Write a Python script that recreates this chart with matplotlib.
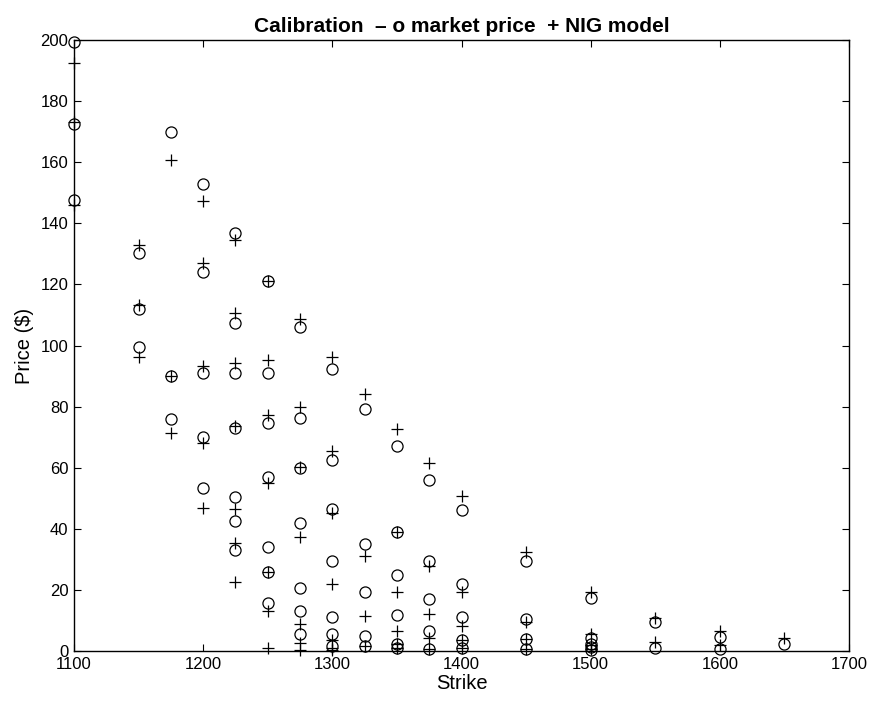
import matplotlib
matplotlib.use("Agg")
import matplotlib.pyplot as plt
import numpy as np

plt.rcParams['font.family'] = ['Liberation Sans', 'DejaVu Sans']

# Market prices (circles)
mkt_strike = [1100]*3 + [1150]*3 + [1175]*3 + [1200]*5 + [1225]*7 + [1250]*7 + [1275]*7 + \
             [1300]*7 + [1325]*5 + [1350]*6 + [1375]*5 + [1400]*5 + [1450]*4 + [1500]*5 + \
             [1550]*2 + [1600]*2 + [1650]*1
mkt_price = [199.3, 172.4, 147.6,
             130.2, 111.8, 99.4,
             169.8, 90.1, 75.8,
             152.8, 124.2, 90.9, 69.9, 53.5,
             136.7, 107.3, 90.9, 73.1, 50.5, 42.6, 33.1,
             121.1, 91.1, 74.7, 57.1, 34.1, 26.0, 15.8,
             106.0, 76.2, 59.8, 42.0, 20.7, 13.2, 5.5,
             92.2, 62.5, 46.5, 29.3, 11.0, 5.5, 1.5,
             79.2, 34.9, 19.2, 4.8, 1.8,
             67.2, 38.8, 24.9, 11.7, 2.2, 0.9,
             56.0, 29.3, 17.0, 6.5, 0.7,
             46.2, 21.8, 11.1, 3.6, 0.9,
             29.4, 10.4, 3.8, 0.8,
             17.5, 4.4, 2.2, 1.2, 0.4,
             9.5, 0.9,
             4.7, 0.7,
             2.2]

# NIG model prices (pluses)
nig_strike = [1100]*3 + [1150]*3 + [1175]*3 + [1200]*5 + [1225]*7 + [1250]*7 + [1275]*7 + \
             [1300]*7 + [1325]*4 + [1350]*6 + [1375]*5 + [1400]*5 + [1450]*4 + [1500]*4 + \
             [1550]*2 + [1600]*2 + [1650]*1
nig_price = [192.6, 173.3, 146.0,
             132.9, 113.3, 96.3,
             160.7, 90.1, 71.5,
             147.3, 126.9, 93.3, 68.2, 46.9,
             134.5, 110.7, 94.2, 73.8, 46.5, 35.3, 22.7,
             121.1, 95.3, 77.3, 54.9, 26.0, 13.1, 1.1,
             108.6, 80.0, 60.3, 37.4, 8.7, 2.6, 0.4,
             96.1, 65.5, 45.1, 21.9, 3.6, 1.0, 0.3,
             84.0, 31.1, 11.3, 1.8,
             72.6, 38.8, 19.4, 6.4, 2.2, 0.9,
             61.4, 27.9, 12.2, 4.3, 0.7,
             50.8, 19.3, 8.3, 3.6, 0.9,
             32.5, 9.5, 3.8, 0.8,
             19.2, 5.6, 2.0, 0.8,
             10.7, 2.9,
             6.5, 2.0,
             4.2]

x_ticks = [1100, 1200, 1300, 1400, 1500, 1600, 1700]
y_ticks = [0, 20, 40, 60, 80, 100, 120, 140, 160, 180, 200]

fig = plt.figure(figsize=(8.72, 7.01), dpi=100)
ax = fig.add_axes([74/872, 1-651/701, (849-74)/872, (651-40)/701])

ax.plot(mkt_strike, mkt_price, linestyle='none', marker='o', markersize=8,
        markerfacecolor='none', markeredgecolor='black', markeredgewidth=0.9, clip_on=False)
ax.plot(nig_strike, nig_price, linestyle='none', marker='+', markersize=8,
        color='black', markeredgewidth=0.9, clip_on=False)

ax.set_xlim(1100, 1700)
ax.set_ylim(0, 200)
ax.set_xticks(x_ticks)
ax.set_yticks(y_ticks)
ax.tick_params(direction='in', top=True, right=True, length=5, width=0.8,
               labelsize=12)
ax.tick_params(axis='x', pad=4.5)
ax.tick_params(axis='y', pad=4)
for s in ax.spines.values():
    s.set_linewidth(1.0)

ax.set_xlabel('Strike', fontsize=14.5, labelpad=1)
ax.set_ylabel('Price ($)', fontsize=14.5, labelpad=5)
ax.set_title('Calibration  \u2013 o market price  + NIG model', fontsize=15,
             fontweight='bold', pad=6)

fig.savefig('out.png', dpi=100)
